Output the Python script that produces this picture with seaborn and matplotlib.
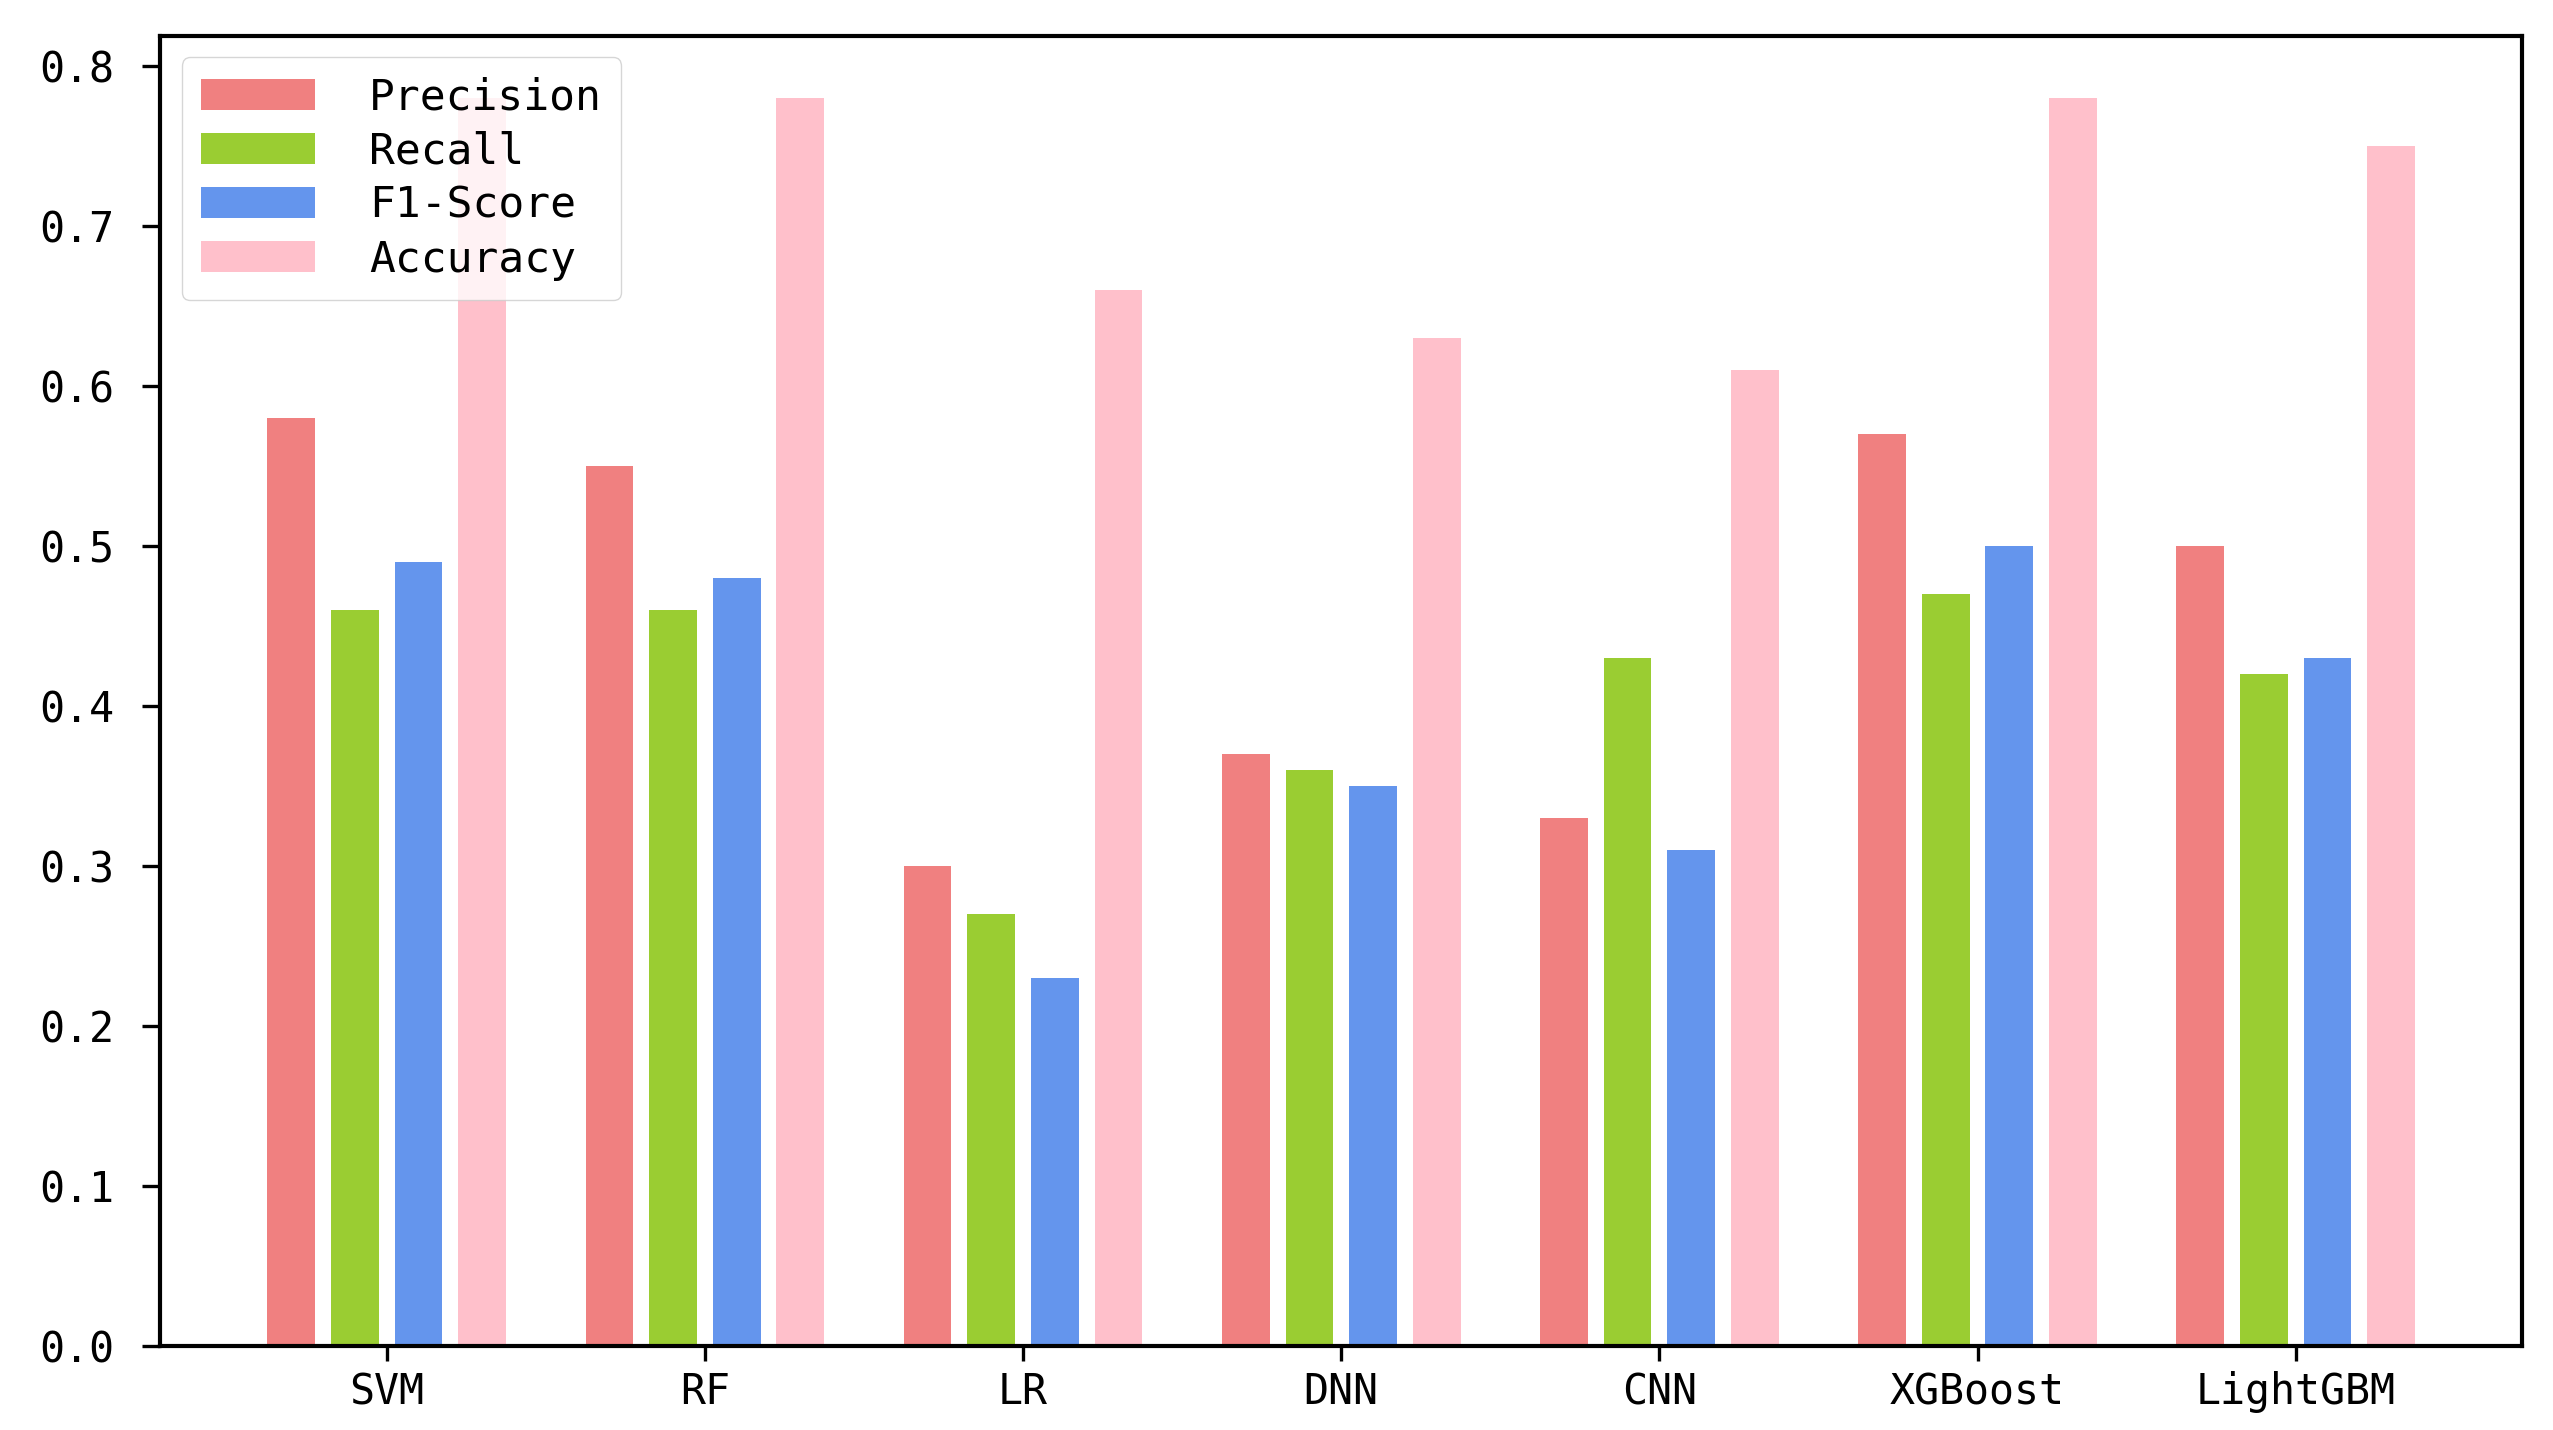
import matplotlib
matplotlib.use("Agg")
import matplotlib.pyplot as plt
import seaborn as sns
import pandas as pd

models = ["SVM", "RF", "LR", "DNN", "CNN", "XGBoost", "LightGBM"]
metrics = ["Precision", "Recall", "F1-Score", "Accuracy"]
precision = [0.58, 0.55, 0.30, 0.37, 0.33, 0.57, 0.50]
recall = [0.46, 0.46, 0.27, 0.36, 0.43, 0.47, 0.42]
f1_score = [0.49, 0.48, 0.23, 0.35, 0.31, 0.50, 0.43]
accuracy = [0.78, 0.78, 0.66, 0.63, 0.61, 0.78, 0.75]
colors = ["#F08080", "#9ACD32", "#6495ED", "#FFC0CB"]

rows = []
for name, vals in zip(metrics, [precision, recall, f1_score, accuracy]):
    for m, v in zip(models, vals):
        rows.append({"Model": m, "Metric": name, "Value": v})
df = pd.DataFrame(rows)

plt.rcParams['font.family'] = ['DejaVu Sans Mono', 'DejaVu Sans']

fig = plt.figure(figsize=(25.53, 14.30), dpi=100)
ax = fig.add_axes([0.0627, 0.0587, 0.9253, 0.9163])

sns.barplot(data=df, x="Model", y="Value", hue="Metric", order=models,
            hue_order=metrics, palette=colors, saturation=1, width=0.8,
            gap=0.25, ax=ax, errorbar=None)

ax.set_xlim(-0.7125, 6.7125)
ax.set_ylim(0, 0.819)
ax.set_yticks([0.0, 0.1, 0.2, 0.3, 0.4, 0.5, 0.6, 0.7, 0.8])
ax.set_xlabel("")
ax.set_ylabel("")
for s in ax.spines.values():
    s.set_visible(True)
    s.set_linewidth(3.0)
    s.set_color("black")
ax.tick_params(axis="y", which="major", length=13, width=2.4,
               labelsize=30, pad=20)
ax.tick_params(axis="x", which="major", length=11, width=2.4,
               labelsize=30, pad=7)

handles, labels = ax.get_legend_handles_labels()
ax.legend(handles, labels, loc="upper left", fontsize=31,
          handlelength=2.65, handleheight=0.72, borderpad=0.45,
          labelspacing=0.28, handletextpad=1.25, framealpha=0.8,
          borderaxespad=0.5)

fig.savefig("out.png", dpi=100)
